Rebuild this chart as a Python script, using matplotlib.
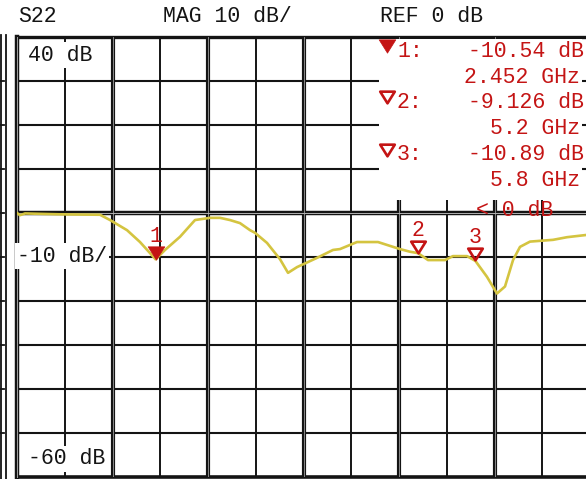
import numpy as np
import matplotlib.pyplot as plt
from matplotlib.path import Path
from matplotlib.transforms import offset_copy

# S22 trace (GHz, dB)
freq_ghz = [1.000, 1.031, 1.084, 1.450, 1.869, 1.974, 2.152, 2.288, 2.452, 2.550,
            2.707, 2.864, 3.021, 3.126, 3.230, 3.335, 3.440, 3.492, 3.618, 3.754,
            3.838, 3.932, 4.141, 4.309, 4.382, 4.560, 4.780, 5.010, 5.115, 5.200,
            5.304, 5.482, 5.565, 5.712, 5.800, 5.921, 6.026, 6.110, 6.194, 6.267,
            6.372, 6.613, 6.759, 6.958]
s22_db = [0.0, -0.5, -0.1, -0.3, -0.4, -1.6, -3.9, -6.6, -10.54, -8.4,
          -5.4, -1.6, -1.1, -1.1, -1.6, -2.3, -3.9, -4.5, -6.8, -10.5,
          -13.6, -12.3, -10.2, -8.4, -8.2, -6.6, -6.6, -8.2, -8.8, -9.126,
          -10.7, -10.7, -9.8, -9.8, -10.89, -14.5, -18.3, -16.7, -10.7, -7.7,
          -6.5, -6.1, -5.5, -5.0]

marker_ids = ['1', '2', '3']
marker_freq = [2.452, 5.2, 5.8]
marker_db = [-10.54, -9.126, -10.89]
marker_filled = [True, False, False]

header = ['S22', 'MAG 10 dB/', 'REF 0 dB']
scale_labels = ['40 dB', '-10 dB/', '-60 dB']

W, H = 586, 479
RED = '#c41414'
INK = '#141414'
TRACE = '#d4c440'
FONT = 'Liberation Mono'
FS = 15.5

fig = plt.figure(figsize=(W / 100, H / 100), dpi=100)
fig.patch.set_facecolor('white')

# graticule: 1..7 GHz, +40..-60 dB (right side is cut by the screen edge)
ax = fig.add_axes([17 / W, 2 / H, 573 / W, 440 / H])
ax.set_xlim(1, 7)
ax.set_ylim(-60, 40)
ax.axis('off')

for f in np.arange(1.5, 7.0, 0.5):
    if f % 1 == 0:
        ax.axvline(f, color=INK, lw=3.0, zorder=1)
        ax.axvline(f, color='#9a9a9a', lw=0.6, zorder=1.1)
    else:
        ax.axvline(f, color=INK, lw=1.4, zorder=1)
for d in range(-50, 40, 10):
    if d == 0:
        ax.axhline(d, color=INK, lw=3.2, zorder=1)
        ax.axhline(d, color='#b0b0b0', lw=0.7, zorder=1.1)
    else:
        ax.axhline(d, color=INK, lw=1.5, zorder=1)
ax.axhline(40, color=INK, lw=2.4, zorder=1, clip_on=False)
ax.axhline(-60, color=INK, lw=2.6, zorder=1, clip_on=False)
ax.axvline(1, color=INK, lw=3.2, zorder=1, clip_on=False)
ax.axvline(1, color='#a0a0a0', lw=0.7, zorder=1.1, clip_on=False)

ax.plot(freq_ghz, s22_db, color=TRACE, lw=1.9, zorder=3)

# markers: down triangles sitting on the trace, number above
tri = Path([(-7.5, 6), (7.5, 6), (0, -6), (-7.5, 6)], closed=True)


def draw_tri(a, x, y, filled, **kw):
    if filled:
        a.plot(x, y, marker=tri, ms=12, color=RED, mec=RED, mew=0.5, **kw)
    else:
        a.plot(x, y, marker=tri, ms=10.5, mfc='none', mec=RED, mew=1.9, **kw)


tri_tr = offset_copy(ax.transData, fig=fig, y=6.5, units='dots')
num_tr = offset_copy(ax.transData, fig=fig, y=23, units='dots')
for mid, f, d, filled in zip(marker_ids, marker_freq, marker_db, marker_filled):
    draw_tri(ax, f, d, filled, transform=tri_tr, zorder=4)
    ax.text(f, d, mid, transform=num_tr, ha='center', va='center',
            color=RED, family=FONT, fontsize=FS, zorder=4)

# screen overlay in pixel coordinates
ov = fig.add_axes([0, 0, 1, 1], zorder=5)
ov.set_xlim(0, W)
ov.set_ylim(H, 0)
ov.axis('off')

# outer left frame with ticks
ov.plot([1, 1], [35, H], color=INK, lw=1.3)
ov.plot([6, 6], [35, H], color=INK, lw=1.3)
for d in range(-50, 40, 10):
    yy = 213 - d * 4.4
    ov.plot([0, 4], [yy, yy], color=INK, lw=1.3)

# header
for s, x in zip(header, [18, 163, 380]):
    ov.text(x, 16, s, ha='left', va='center', color=INK, family=FONT, fontsize=FS)

# scale labels inside the graticule
for s, x, y in zip(scale_labels, [28, 17, 28], [55, 256, 459]):
    ov.text(x, y, s, ha='left', va='center', color=INK, family=FONT, fontsize=FS,
            bbox=dict(fc='white', ec='none', pad=1.5))

# marker readout panel
ov.add_patch(plt.Rectangle((379, 39), 203, 161, fc='white', ec='none'))
row_y = [51, 102, 155]
for i, (f, d, filled) in enumerate(zip(marker_freq, marker_db, marker_filled)):
    y = row_y[i]
    draw_tri(ov, 387, y - 5, filled)
    ov.text(397, y, f'{marker_ids[i]}:', ha='left', va='center', color=RED,
            family=FONT, fontsize=FS)
    ov.text(584, y, f'{d:g} dB', ha='right', va='center', color=RED,
            family=FONT, fontsize=FS)
    ov.text(580, y + 26, f'{f:g} GHz', ha='right', va='center', color=RED,
            family=FONT, fontsize=FS)
ov.text(476, 211, '< 0 dB', ha='left', va='center', color=RED,
        family=FONT, fontsize=FS)

fig.savefig('out.png', dpi=100)
